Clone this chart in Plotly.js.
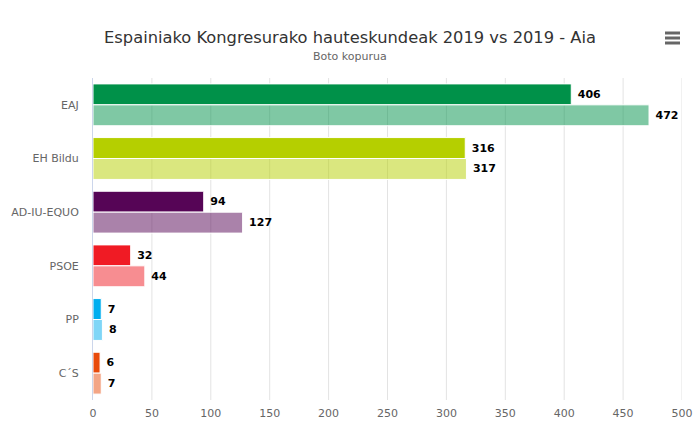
<!DOCTYPE html>
<html>
<head>
<meta charset="utf-8">
<script src="https://cdn.plot.ly/plotly-3.0.1.min.js"></script>
<style>html,body{margin:0;padding:0;background:#fff}#chart{width:700px;height:441px}</style>
</head>
<body>
<div id="chart"></div>
<script>
const categories = ["EAJ", "EH Bildu", "AD-IU-EQUO", "PSOE", "PP", "C´S"];
const votesA = [406, 316, 94, 32, 7, 6];
const votesB = [472, 317, 127, 44, 8, 7];
const colorsA = ["#009149", "#B5CF00", "#560556", "#F01B24", "#00AEEF", "#E84B0C"];
const colorsB = ["rgba(0,145,73,0.5)", "rgba(181,207,0,0.5)", "rgba(86,5,86,0.5)", "rgba(240,27,36,0.5)", "rgba(0,174,239,0.5)", "rgba(232,75,12,0.5)"];
const xTicks = [0, 50, 100, 150, 200, 250, 300, 350, 400, 450, 500];

function trace(vals, cols, name) {
  return {
    type: "bar", orientation: "h", name: name,
    y: categories, x: vals,
    marker: {color: cols, line: {color: "#ffffff", width: 1}},
    text: vals.map(v => "\u00a0<b>" + v + "</b>"),
    textposition: "outside", cliponaxis: false,
    textfont: {family: "DejaVu Sans, sans-serif", size: 11, color: "#000"},
    hoverinfo: "x+y"
  };
}

const data = [trace(votesA, colorsA, "2019-04"), trace(votesB, colorsB, "2019-11")];

const gridShapes = xTicks.slice(1).map(v => ({
  type: "line", xref: "x", yref: "paper", layer: "below",
  x0: v, x1: v, y0: 0, y1: 1,
  line: {color: "#e3e3e3", width: 1}
}));

const menuShapes = [33, 38, 43].map(py => ({
  type: "line", xref: "paper", yref: "paper",
  x0: (665 - 93) / 589, x1: (680 - 93) / 589,
  y0: (400 - py) / 322, y1: (400 - py) / 322,
  line: {color: "#666", width: 3}
}));

const layout = {
  width: 700, height: 441,
  margin: {l: 93, r: 18, t: 78, b: 41},
  paper_bgcolor: "#fff", plot_bgcolor: "#fff",
  showlegend: false,
  barmode: "group", bargap: 0.22, bargroupgap: 0,
  font: {family: "DejaVu Sans, sans-serif", color: "#666"},
  title: {
    text: "Espainiako Kongresurako hauteskundeak 2019 vs 2019 - Aia",
    font: {family: "DejaVu Sans, sans-serif", size: 16.3, color: "#333"},
    x: 0.5, xanchor: "center", xref: "container",
    y: 1 - 37 / 441, yanchor: "middle", yref: "container"
  },
  annotations: [{
    text: "Boto kopurua", xref: "paper", yref: "paper",
    x: (350 - 93) / 589, y: (400 - 57) / 322, xanchor: "center", yanchor: "middle",
    showarrow: false, font: {size: 11, color: "#666"}
  }],
  xaxis: {
    range: [0, 500], tickvals: xTicks, ticktext: xTicks.map(String),
    showgrid: false, zeroline: false, showline: false, ticks: "", ticklabelstandoff: 5,
    tickfont: {size: 11, color: "#666"}, fixedrange: true
  },
  yaxis: {
    autorange: "reversed", showgrid: false, zeroline: false,
    showline: true, linecolor: "#ccd6eb", linewidth: 1,
    ticks: "", ticklabelstandoff: 11,
    tickfont: {size: 11, color: "#666"}, fixedrange: true
  },
  shapes: gridShapes.concat(menuShapes)
};

Plotly.newPlot("chart", data, layout, {displayModeBar: false, staticPlot: true});
</script>
</body>
</html>
